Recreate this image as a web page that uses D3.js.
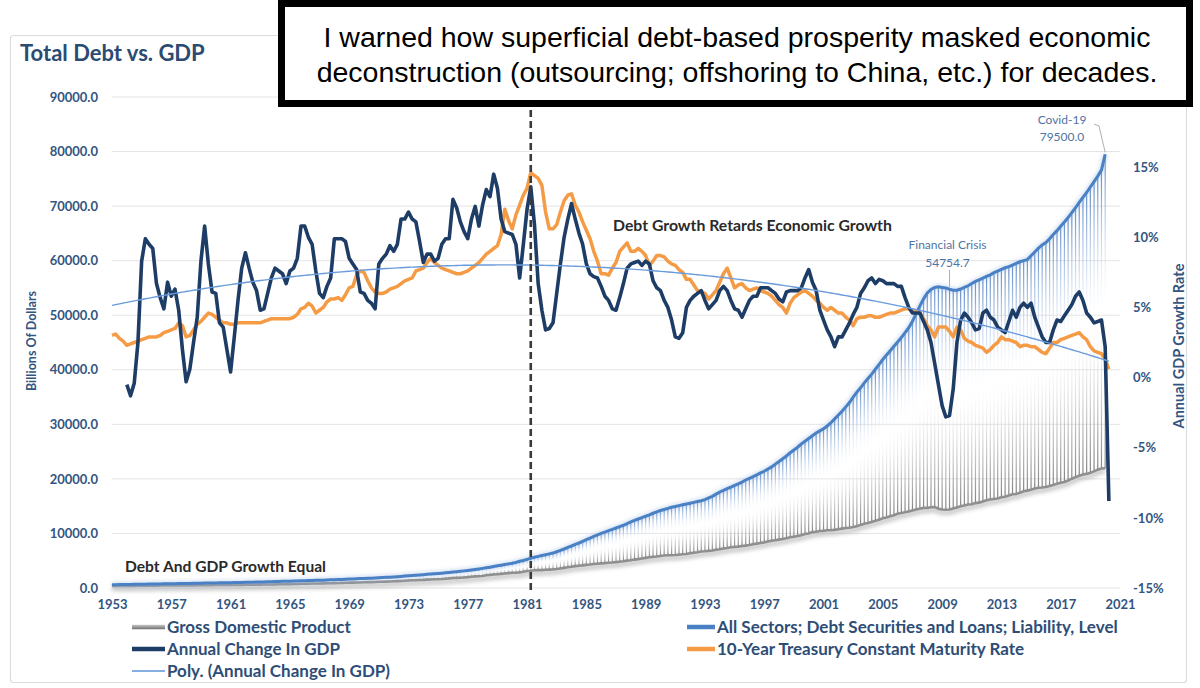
<!DOCTYPE html>
<html>
<head>
<meta charset="utf-8">
<script src="https://cdn.jsdelivr.net/npm/d3@7/dist/d3.min.js"></script>
<style>
  body { margin: 0; background: #fff; }
  svg { display: block; }
</style>
</head>
<body>
<div id="chart"></div>
<script>
// ---- data (quarterly) ----
var levelStartYear = 1953     // debt + GDP start 1953 Q1
var changeStartYear = 1954    // annual change starts 1954 Q1
var rateStartYear = 1953      // 10y treasury starts 1953 Q1

// All Sectors; Debt Securities and Loans; Liability, Level (billions)
var debt = [
    600, 610, 620, 630,   640, 650, 665, 680,   690, 705, 720, 735,   745, 755, 765, 775,
    785, 795, 805, 815,   825, 835, 850, 865,   880, 895, 910, 925,   935, 945, 955, 965,
    980, 995, 1010, 1025,   1040, 1055, 1070, 1090,   1105, 1120, 1140, 1160,   1175, 1195, 1215, 1235,
    1255, 1275, 1295, 1320,   1340, 1360, 1380, 1400,   1420, 1440, 1470, 1495,   1520, 1550, 1580, 1610,
    1640, 1670, 1700, 1725,   1750, 1775, 1805, 1835,   1870, 1910, 1950, 1990,   2035, 2080, 2130, 2180,
    2235, 2290, 2345, 2395,   2450, 2510, 2560, 2610,   2660, 2720, 2780, 2850,   2920, 2990, 3060, 3140,
    3220, 3310, 3400, 3500,   3600, 3710, 3820, 3940,   4060, 4180, 4300, 4420,   4540, 4700, 4900, 5050,
    5250, 5450, 5650, 5800,   5950, 6100, 6250, 6400,   6650, 6900, 7150, 7450,   7700, 8000, 8250, 8550,
    8850, 9150, 9450, 9750,   10000, 10250, 10500, 10750,   11000, 11250, 11500, 11800,   12100, 12400, 12650, 12900,
    13150, 13400, 13700, 13950,   14200, 14400, 14600, 14800,   14950, 15100, 15250, 15400,   15550, 15700, 15850, 16000,
    16200, 16500, 16800, 17200,   17600, 17900, 18200, 18500,   18800, 19100, 19400, 19800,   20100, 20400, 20750, 21100,
    21400, 21800, 22200, 22700,   23200, 23700, 24200, 24800,   25300, 25800, 26400, 26900,   27400, 27900, 28400, 28800,
    29200, 29700, 30300, 31000,   31700, 32400, 33200, 34000,   35000, 35900, 36700, 37600,   38400, 39200, 40100, 41000,
    41900, 42700, 43500, 44300,   45100, 45900, 46800, 47700,   48900, 50300, 51700, 53000,   54100, 54700, 55100, 55200,
    55100, 55000, 54754.7, 54600,   54600, 54800, 55100, 55400,   55800, 56200, 56500, 56800,   57100, 57400, 57800, 58100,
    58400, 58700, 58900, 59200,   59500, 59800, 60000, 60200,   60900, 61600, 62300, 62900,   63300, 64000, 64800, 65500,
    66300, 67100, 67900, 68800,   69700, 70700, 71600, 72500,   73500, 74500, 75500, 76600,   79500
]

// Gross Domestic Product (billions)
var gdp = [
    388, 392, 391, 386,   386, 388, 392, 400,   413, 422, 431, 437,   440, 447, 451, 461,
    470, 473, 480, 476,   469, 473, 487, 500,   511, 525, 525, 529,   543, 542, 547, 541,
    546, 556, 568, 581,   594, 601, 609, 613,   622, 629, 642, 649,   665, 674, 687, 693,
    712, 725, 742, 767,   788, 800, 816, 828,   835, 840, 858, 873,   898, 924, 941, 956,
    979, 994, 1014, 1018,   1051, 1068, 1086, 1088,   1135, 1156, 1177, 1191,   1231, 1267, 1287, 1325,
    1377, 1414, 1433, 1478,   1491, 1530, 1560, 1599,   1616, 1651, 1709, 1762,   1820, 1853, 1891, 1938,
    1992, 2061, 2128, 2163,   2208, 2336, 2399, 2482,   2531, 2595, 2670, 2731,   2797, 2797, 2857, 2986,
    3124, 3162, 3260, 3281,   3274, 3332, 3367, 3407,   3480, 3584, 3693, 3796,   3912, 4015, 4088, 4148,
    4237, 4302, 4395, 4454,   4516, 4555, 4619, 4670,   4737, 4822, 4901, 5023,   5091, 5208, 5299, 5413,
    5527, 5628, 5711, 5764,   5873, 5961, 6016, 6006,   6038, 6106, 6175, 6230,   6364, 6470, 6567, 6680,
    6729, 6809, 6882, 7014,   7115, 7246, 7331, 7456,   7522, 7580, 7683, 7772,   7868, 8033, 8131, 8260,
    8362, 8518, 8662, 8766,   8866, 8970, 9121, 9294,   9411, 9527, 9667, 9882,   10002, 10248, 10318, 10436,
    10470, 10599, 10598, 10660,   10784, 10887, 10985, 11051,   11174, 11313, 11567, 11773,   11923, 12112, 12305, 12527,
    12767, 12922, 13143, 13324,   13600, 13750, 13868, 14038,   14209, 14383, 14535, 14681,   14652, 14805, 14836, 14546,
    14381, 14342, 14384, 14566,   14765, 14980, 15141, 15309,   15351, 15558, 15648, 15842,   16068, 16208, 16320, 16421,
    16648, 16729, 16954, 17193,   17232, 17462, 17744, 17852,   18021, 18250, 18389, 18432,   18526, 18711, 18892, 19090,
    19280, 19439, 19693, 20038,   20328, 20581, 20799, 20917,   21105, 21384, 21694, 21903,   21950
]

// Annual Change In GDP (%)
var gdpChange = [
    -0.5, -1.3, -0.4, 2.5,   8.3, 9.9, 9.5, 9.2,   6.7, 5.7, 4.9, 6.8,   5.8, 6.3, 4.8, 2.0,
    -0.3, 0.6, 2.5, 4.3,   8.3, 10.8, 8.1, 6.1,   6.0, 3.9, 3.6, 2.0,   0.4, 2.9, 5.5, 7.8,
    8.9, 7.8, 6.8, 6.2,   4.8, 4.9, 6.0, 7.1,   7.8, 7.6, 7.4, 6.7,   7.6, 7.8, 8.5, 10.8,
    10.8, 10.0, 9.5, 7.6,   6.0, 5.7, 6.5, 7.1,   9.9, 9.9, 9.9, 9.7,   8.5, 8.1, 7.7, 6.1,
    6.0, 5.5, 5.3, 4.9,   8.1, 8.5, 8.8, 9.4,   9.0, 9.5, 11.3, 11.3,   11.8, 11.3, 11.1, 9.7,
    8.2, 8.8, 8.8, 8.3,   8.5, 9.5, 9.9, 9.9,   12.7, 12.1, 11.1, 10.4,   9.9, 11.3, 12.2, 10.8,
    12.3, 13.4, 12.9, 14.5,   13.5, 11.3, 10.4, 10.3,   10.2, 9.5, 7.1, 9.5,   12.0, 13.6, 10.9, 6.7,
    4.8, 3.4, 3.5, 3.9,   6.0, 8.1, 10.0, 11.3,   12.4, 11.3, 10.3, 9.5,   8.1, 7.4, 7.2, 7.1,
    6.5, 5.8, 5.5, 4.9,   4.8, 5.7, 6.7, 7.8,   8.1, 8.2, 8.3, 8.0,   8.3, 8.1, 6.9, 6.4,
    6.2, 5.5, 5.0, 4.1,   2.9, 2.8, 3.2, 5.0,   5.5, 5.8, 6.0, 6.2,   5.5, 4.9, 5.2, 5.5,
    6.2, 6.5, 6.2, 5.5,   4.9, 4.8, 4.3, 4.9,   5.5, 5.8, 5.8, 6.4,   6.4, 6.4, 6.2, 6.0,
    5.6, 5.4, 6.1, 6.2,   6.2, 6.2, 6.4, 7.1,   7.7, 6.8, 6.2, 4.8,   4.1, 3.4, 2.9, 2.2,
    2.9, 2.9, 3.4, 3.9,   4.5, 5.0, 6.0, 6.4,   6.9, 7.1, 6.7, 7.0,   6.9, 6.7, 6.7, 6.7,
    6.5, 6.5, 5.7, 5.0,   4.6, 4.6, 4.6, 4.0,   3.4, 2.5, 1.0, -0.5,   -2.0, -2.8, -2.7, -0.8,
    2.5, 4.1, 4.6, 4.3,   3.9, 3.4, 3.5, 4.6,   4.8, 4.3, 4.1, 3.6,   3.4, 3.2, 4.0, 4.8,
    4.3, 5.0, 5.3, 5.0,   5.3, 4.3, 3.6, 2.9,   2.5, 2.5, 3.4, 4.1,   4.0, 4.4, 4.8, 5.2,
    5.8, 6.1, 5.5, 4.6,   4.3, 3.9, 4.0, 4.1,   2.2, -8.8
]

// 10-Year Treasury Constant Maturity Rate (%)
var treasury10y = [
    3.0, 3.1, 2.8, 2.6,   2.3, 2.4, 2.5, 2.6,   2.7, 2.8, 2.9, 2.9,   2.9, 3.0, 3.2, 3.3,
    3.4, 3.5, 3.9, 3.7,   2.9, 3.0, 3.4, 3.8,   4.0, 4.3, 4.6, 4.5,   4.3, 4.1, 3.9, 3.9,
    3.8, 3.8, 3.9, 3.9,   3.9, 3.9, 3.9, 3.9,   3.9, 4.0, 4.1, 4.2,   4.2, 4.2, 4.2, 4.2,
    4.2, 4.3, 4.5, 4.9,   5.0, 5.3, 5.1, 4.6,   4.8, 5.0, 5.4, 5.6,   5.6, 5.7, 5.5, 5.9,
    6.4, 6.5, 7.3, 7.6,   7.5, 6.9, 6.4, 6.1,   6.0, 6.0, 6.1, 6.3,   6.4, 6.5, 6.7, 6.9,
    7.0, 7.1, 7.6, 7.7,   7.8, 8.2, 8.5, 8.2,   8.0, 7.8, 7.7, 7.6,   7.5, 7.4, 7.4, 7.5,
    7.6, 7.8, 8.0, 8.2,   8.5, 8.8, 9.0, 9.2,   9.4, 10.2, 12.0, 11.2,   10.6, 11.6, 12.3, 13.0,
    13.5, 14.6, 14.4, 14.2,   13.7, 11.8, 10.6, 10.6,   10.9, 11.8, 12.6, 13.0,   13.1, 12.3, 11.8, 11.1,
    10.5, 9.9, 9.0, 8.3,   7.4, 7.4, 7.3, 7.8,   8.2, 9.0, 9.3, 9.6,   9.0, 9.0, 9.2, 9.0,
    8.7, 8.0, 8.3, 8.7,   8.7, 8.6, 8.3, 8.1,   8.0, 7.7, 7.5, 7.0,   7.0, 6.6, 6.2, 6.1,
    6.0, 5.6, 5.9, 6.2,   6.8, 7.4, 7.8, 7.1,   6.4, 6.6, 6.7, 6.4,   6.2, 6.3, 6.4, 6.2,
    6.1, 6.0, 5.8, 5.5,   5.2, 5.0, 4.6, 5.3,   5.7, 5.9, 6.1, 6.2,   6.0, 5.8, 5.5, 5.3,
    5.0, 4.8, 5.0, 4.8,   4.6, 4.6, 4.3, 4.1,   3.7, 4.2, 4.3, 4.3,   4.4, 4.4, 4.3, 4.3,
    4.4, 4.5, 4.6, 4.6,   4.7, 4.8, 4.9, 4.9,   4.8, 4.7, 4.6, 4.2,   3.7, 3.4, 2.9, 3.6,
    3.6, 3.6, 3.3, 2.9,   3.6, 3.4, 2.8, 2.6,   2.5, 2.3, 2.2, 2.1,   1.8, 2.0, 2.3, 2.5,
    2.9, 2.7, 2.7, 2.6,   2.5, 2.2, 2.3, 2.3,   2.2, 2.2, 2.0, 1.8,   1.7, 2.1, 2.5, 2.5,
    2.7, 2.8, 2.9, 3.0,   3.1, 3.2, 2.9, 2.7,   2.2, 1.9, 1.8, 1.7,   1.3, 0.6
]

var xTickYears = d3.range(1953, 2022, 4)
var leftTicks = d3.range(0, 90001, 10000)
var rightTicks = [-15, -10, -5, 0, 5, 10, 15]

var legendItems = [
    {name: "Gross Domestic Product", key: "gdp", col: 0, row: 0},
    {name: "All Sectors; Debt Securities and Loans; Liability, Level", key: "debt", col: 1, row: 0},
    {name: "Annual Change In GDP", key: "change", col: 0, row: 1},
    {name: "10-Year Treasury Constant Maturity Rate", key: "rate", col: 1, row: 1},
    {name: "Poly. (Annual Change In GDP)", key: "poly", col: 0, row: 2}
]

var annotations = [
    {lines: ["Financial Crisis", "54754.7"], series: "debt", year: 2009.5},
    {lines: ["Covid-19", "79500.0"], series: "debt", year: 2020.0}
]

// ---- helpers ----
function quarterly(arr, start)
{
    return arr.map(function(v, i) { return {t: start + i / 4, v: v} })
}

// least squares polynomial (Excel style trendline)
function polyFit(pts, order)
{
    var n = order + 1
    var A = [], b = []
    for (var r = 0; r < n; r++) { A.push(new Array(n).fill(0)); b.push(0) }
    pts.forEach(function(p)
		{
		    var u = (p.t - 1987) / 30
		    for (var r = 0; r < n; r++) {
			for (var c = 0; c < n; c++) A[r][c] += Math.pow(u, r + c)
			b[r] += p.v * Math.pow(u, r)
		    }
		})
    for (var i = 0; i < n; i++) {
	var piv = i
	for (var k = i + 1; k < n; k++) if (Math.abs(A[k][i]) > Math.abs(A[piv][i])) piv = k
	var tmp = A[i]; A[i] = A[piv]; A[piv] = tmp
	var tb = b[i]; b[i] = b[piv]; b[piv] = tb
	for (var k = i + 1; k < n; k++) {
	    var f = A[k][i] / A[i][i]
	    for (var c = i; c < n; c++) A[k][c] -= f * A[i][c]
	    b[k] -= f * b[i]
	}
    }
    var coef = new Array(n).fill(0)
    for (var i = n - 1; i >= 0; i--) {
	var s = b[i]
	for (var c = i + 1; c < n; c++) s -= A[i][c] * coef[c]
	coef[i] = s / A[i][i]
    }
    return function(t)
    {
	var u = (t - 1987) / 30, y = 0
	for (var r = 0; r < n; r++) y += coef[r] * Math.pow(u, r)
	return y
    }
}

var debtPts = quarterly(debt, levelStartYear)
var gdpPts = quarterly(gdp, levelStartYear)
var changePts = quarterly(gdpChange, changeStartYear)
var ratePts = quarterly(treasury10y, rateStartYear)
var trend = polyFit(changePts, 2)
var trendPts = d3.range(0, gdpChange.length + 4).map(function(i)
						     {
							 var t = 1953 + i / 4
							 return {t: t, v: trend(t)}
						     })

// ---- scales ----
var x = d3.scaleLinear().domain([1953, 2021]).range([112, 1120])
var yL = d3.scaleLinear().domain([0, 90000]).range([588, 97])
var yR = d3.scaleLinear().domain([-15, 20]).range([588, 97])

var font = "Lato, 'Open Sans', sans-serif"
var axisColor = "#33557f"

var svg = d3.select("#chart").append("svg")
    .attr("width", 1200).attr("height", 688)
    .style("font-family", font)

var defs = svg.append("defs")

var dropGrad = defs.append("linearGradient").attr("id", "dropGrad")
    .attr("x1", 0).attr("y1", 0).attr("x2", 0).attr("y2", 1)
dropGrad.append("stop").attr("offset", "0%").attr("stop-color", "#3f74bb").attr("stop-opacity", 0.85)
dropGrad.append("stop").attr("offset", "22%").attr("stop-color", "#9db9e0").attr("stop-opacity", 0.6)
dropGrad.append("stop").attr("offset", "48%").attr("stop-color", "#ffffff").attr("stop-opacity", 0.2)
dropGrad.append("stop").attr("offset", "75%").attr("stop-color", "#c4c4c4").attr("stop-opacity", 0.75)
dropGrad.append("stop").attr("offset", "100%").attr("stop-color", "#7c7c7c").attr("stop-opacity", 0.95)

var gdpLegendGrad = defs.append("linearGradient").attr("id", "gdpLegendGrad")
    .attr("x1", 0).attr("y1", 0).attr("x2", 0).attr("y2", 1)
gdpLegendGrad.append("stop").attr("offset", "0%").attr("stop-color", "#c8c8c8")
gdpLegendGrad.append("stop").attr("offset", "100%").attr("stop-color", "#6e6e6e")

defs.append("filter").attr("id", "soft")
    .attr("x", "-5%").attr("y", "-50%").attr("width", "110%").attr("height", "200%")
    .append("feGaussianBlur").attr("stdDeviation", 2.2)

// frame
svg.append("rect")
    .attr("x", 10.5).attr("y", 35.5).attr("width", 1176).attr("height", 647)
    .attr("rx", 3)
    .attr("fill", "#fff").attr("stroke", "#dcdcdc").attr("stroke-width", 1.2)

// title
svg.append("text")
    .attr("x", 20).attr("y", 61)
    .text("Total Debt vs. GDP")
    .style("font-size", "22px").style("font-weight", "bold")
    .attr("fill", "#2b4b73")

// gridlines
svg.append("g").selectAll("line").data(leftTicks).enter().append("line")
    .attr("x1", 112).attr("x2", 1120)
    .attr("y1", function(d) { return yL(d) }).attr("y2", function(d) { return yL(d) })
    .attr("stroke", "#e4e4e4").attr("stroke-width", 1)

// axes
var leftAxis = svg.append("g").attr("transform", "translate(98,0)")
    .call(d3.axisLeft(yL).tickValues(leftTicks).tickSize(0).tickPadding(0).tickFormat(d3.format(".1f")))
var rightAxis = svg.append("g").attr("transform", "translate(1133,0)")
    .call(d3.axisRight(yR).tickValues(rightTicks).tickSize(0).tickPadding(0)
	  .tickFormat(function(d) { return d + "%" }))
var bottomAxis = svg.append("g").attr("transform", "translate(0,598)")
    .call(d3.axisBottom(x).tickValues(xTickYears).tickSize(0).tickPadding(2).tickFormat(d3.format("d")))

;[leftAxis, rightAxis, bottomAxis].forEach(function(g)
					    {
						g.select(".domain").remove()
						g.selectAll("text")
						    .style("font-family", font)
						    .style("font-size", "13px")
						    .style("font-weight", "bold")
						    .attr("fill", axisColor)
					    })

// axis titles
svg.append("text")
    .attr("transform", "translate(36,341) rotate(-90)")
    .attr("text-anchor", "middle")
    .text("Billions Of Dollars")
    .style("font-size", "12.5px").style("font-weight", "bold")
    .attr("fill", axisColor)

svg.append("text")
    .attr("transform", "translate(1184,346) rotate(-90)")
    .attr("text-anchor", "middle")
    .text("Annual GDP Growth Rate")
    .style("font-size", "14.5px").style("font-weight", "bold")
    .attr("fill", axisColor)

// drop lines between debt and GDP
svg.append("g").selectAll("rect").data(debtPts).enter().append("rect")
    .attr("x", function(d) { return x(d.t) - 0.6 })
    .attr("width", 1.2)
    .attr("y", function(d) { return yL(d.v) })
    .attr("height", function(d, i) { return Math.max(0.5, yL(gdpPts[i].v) - yL(d.v)) })
    .attr("fill", "url(#dropGrad)")

var lineL = d3.line().x(function(d) { return x(d.t) }).y(function(d) { return yL(d.v) })
var lineR = d3.line().x(function(d) { return x(d.t) }).y(function(d) { return yR(d.v) })

// GDP line with soft shadow
svg.append("path").datum(gdpPts)
    .attr("d", lineL)
    .attr("transform", "translate(0,3)")
    .attr("fill", "none").attr("stroke", "#8a8a8a").attr("stroke-width", 4)
    .attr("opacity", 0.55)
    .attr("filter", "url(#soft)")
svg.append("path").datum(gdpPts)
    .attr("d", lineL)
    .attr("fill", "none").attr("stroke", "#8f8f8f").attr("stroke-width", 2.6)

// debt line
svg.append("path").datum(debtPts)
    .attr("d", lineL)
    .attr("fill", "none").attr("stroke", "#9fbde4").attr("stroke-width", 5)
    .attr("opacity", 0.5)
    .attr("filter", "url(#soft)")
svg.append("path").datum(debtPts)
    .attr("d", lineL)
    .attr("fill", "none").attr("stroke", "#4a80c4").attr("stroke-width", 3)

// 10y treasury
svg.append("path").datum(ratePts)
    .attr("d", lineR)
    .attr("fill", "none").attr("stroke", "#f59b45").attr("stroke-width", 3.5)
    .attr("stroke-linejoin", "round")

// annual change in GDP
svg.append("path").datum(changePts)
    .attr("d", lineR)
    .attr("fill", "none").attr("stroke", "#1d3d66").attr("stroke-width", 3.6)
    .attr("stroke-linejoin", "round")

// poly trend
svg.append("path").datum(trendPts)
    .attr("d", lineR)
    .attr("fill", "none").attr("stroke", "#6a9bdc").attr("stroke-width", 1.4)

// 1981 marker
svg.append("line")
    .attr("x1", x(1981.25)).attr("x2", x(1981.25))
    .attr("y1", 110).attr("y2", 590)
    .attr("stroke", "#3a3a3a").attr("stroke-width", 2.6)
    .attr("stroke-dasharray", "7,4")

// text notes
svg.append("text")
    .attr("x", 613).attr("y", 231)
    .text("Debt Growth Retards Economic Growth")
    .style("font-size", "15.8px").style("font-weight", "bold")
    .attr("fill", "#2a2a2a")

svg.append("text")
    .attr("x", 125).attr("y", 572)
    .text("Debt And GDP Growth Equal")
    .style("font-size", "15.6px").style("font-weight", "bold")
    .attr("fill", "#2a2a2a")

// data labels
function debtAt(year)
{
    var i = Math.round((year - levelStartYear) * 4)
    return debtPts[Math.min(i, debtPts.length - 1)]
}

var fc = debtAt(annotations[0].year)
svg.append("line")
    .attr("x1", x(fc.t)).attr("x2", x(fc.t))
    .attr("y1", 270).attr("y2", yL(fc.v) - 2)
    .attr("stroke", "#b0b0b0").attr("stroke-width", 1)
svg.append("g").selectAll("text").data(annotations[0].lines).enter().append("text")
    .attr("x", x(fc.t) - 2)
    .attr("y", function(d, i) { return 249 + i * 18 })
    .attr("text-anchor", "middle")
    .text(function(d) { return d })
    .style("font-size", "12px")
    .attr("fill", "#4f74a3")

var cv = debtAt(annotations[1].year)
svg.append("polyline")
    .attr("points", [[1094, 124], [1099, 126], [x(cv.t), yL(cv.v) - 2]].join(" "))
    .attr("fill", "none")
    .attr("stroke", "#b0b0b0").attr("stroke-width", 1)
svg.append("g").selectAll("text").data(annotations[1].lines).enter().append("text")
    .attr("x", 1062)
    .attr("y", function(d, i) { return 124 + i * 17 })
    .attr("text-anchor", "middle")
    .text(function(d) { return d })
    .style("font-size", "12px")
    .attr("fill", "#4f74a3")

// legend
var legendStyle = {
    gdp: {stroke: "url(#gdpLegendGrad)", width: 4.5},
    debt: {stroke: "#4a80c4", width: 4.5},
    change: {stroke: "#1d3d66", width: 4.5},
    rate: {stroke: "#f59b45", width: 4.5},
    poly: {stroke: "#6a9bdc", width: 1.6}
}
var colX = [[132, 165], [687, 715]]
var rowY = [627, 649, 671]

var legend = svg.append("g").selectAll("g").data(legendItems).enter().append("g")
legend.append("rect")
    .attr("x", function(d) { return colX[d.col][0] })
    .attr("y", function(d) { return rowY[d.row] - legendStyle[d.key].width / 2 })
    .attr("width", function(d) { return colX[d.col][1] - colX[d.col][0] })
    .attr("height", function(d) { return legendStyle[d.key].width })
    .attr("fill", function(d) { return legendStyle[d.key].stroke })
legend.append("text")
    .attr("x", function(d) { return colX[d.col][1] + 2 })
    .attr("y", function(d) { return rowY[d.row] + 6 })
    .text(function(d) { return d.name })
    .style("font-size", "17px").style("font-weight", "bold")
    .attr("fill", "#2e4d76")

// callout box
svg.append("rect")
    .attr("x", 281.5).attr("y", 3.5).attr("width", 908).attr("height", 100)
    .attr("fill", "#fff").attr("stroke", "#000").attr("stroke-width", 7)

var calloutLines = [
    "I warned how superficial debt-based prosperity masked economic",
    "deconstruction (outsourcing; offshoring to China, etc.) for decades."
]
svg.append("g").selectAll("text").data(calloutLines).enter().append("text")
    .attr("x", 737)
    .attr("y", function(d, i) { return 47 + i * 35 })
    .attr("text-anchor", "middle")
    .text(function(d) { return d })
    .style("font-family", "'Liberation Sans', Arial, sans-serif")
    .style("font-size", "28.5px")
    .attr("fill", "#000")
</script>
</body>
</html>
